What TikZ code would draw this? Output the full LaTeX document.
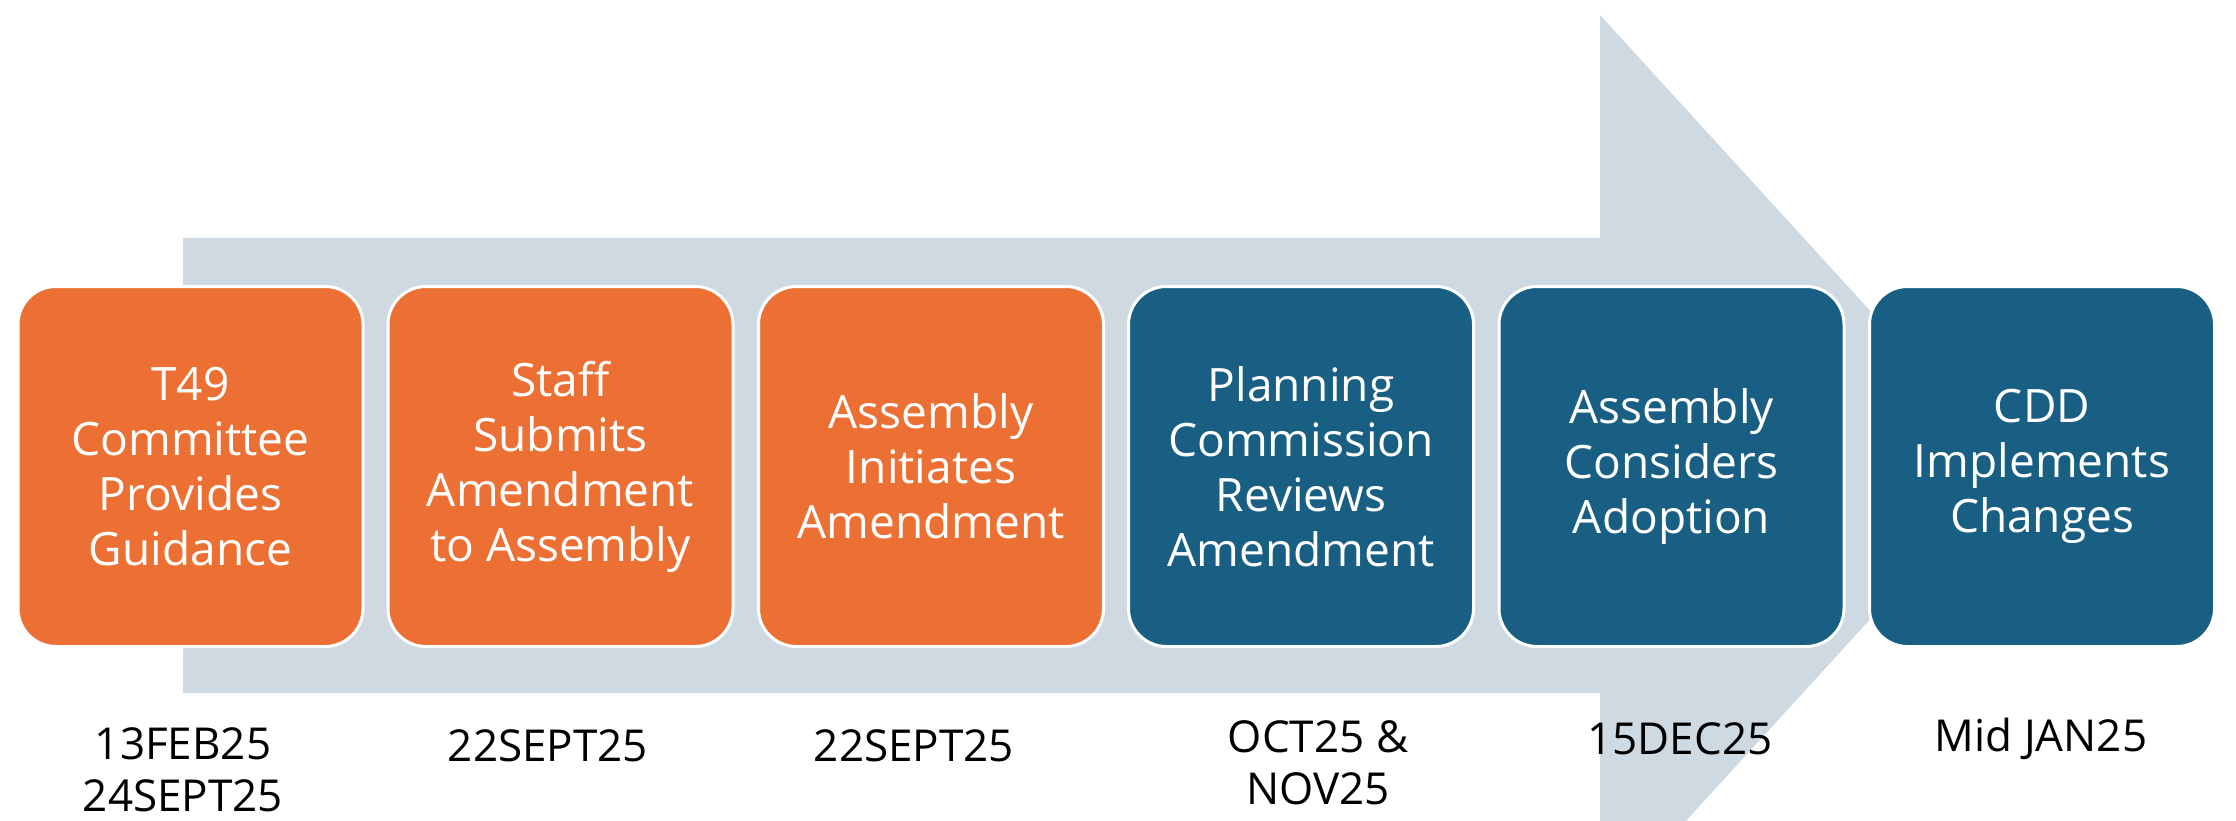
\documentclass[tikz,border=0pt]{standalone}
\usepackage{fontspec}
\setmainfont{Open Sans}
\definecolor{arrowGray}{RGB}{207,217,226}
\definecolor{stepOrange}{RGB}{236,112,52}
\definecolor{stepBlue}{RGB}{25,95,132}
\begin{document}
\begin{tikzpicture}[x=1pt,y=-1pt,
  stepbox/.style={rectangle, rounded corners=38pt, minimum width=345pt,
    minimum height=360pt, draw=white, line width=3pt, text=white,
    align=center, inner sep=0pt, font=\fontsize{46}{55}\selectfont},
  early/.style={stepbox, fill=stepOrange},
  late/.style={stepbox, fill=stepBlue},
  datelbl/.style={align=center, inner sep=0pt, anchor=north, text=black,
    font=\fontsize{44}{52}\selectfont}]
  \useasboundingbox (0,0) rectangle (2236,821);
  \fill[white] (0,0) rectangle (2236,821);

  % wide background arrow running under the steps
  \begin{scope}
    \clip (0,0) rectangle (2236,821);
    \fill[arrowGray] (183,238) -- (1600,238) -- (1600,15) -- (2011,465)
      -- (1600,915) -- (1600,693) -- (183,693) -- cycle;
  \end{scope}

  % process steps
  \node[early] (s1) at (190.5,466.5) {T49\\Committee\\Provides\\Guidance};
  \node[early] (s2) at (560.5,466.5) {Staff\\Submits\\Amendment\\to Assembly};
  \node[early] (s3) at (931,466.5) {Assembly\\Initiates\\Amendment};
  \node[late]  (s4) at (1301,466.5) {Planning\\Commission\\Reviews\\Amendment};
  \node[late]  (s5) at (1671.5,466.5) {Assembly\\Considers\\Adoption};
  \node[late]  (s6) at (2042,466.5) {CDD\\Implements\\Changes};

  % dates under each step
  \node[datelbl] (d1) at (183,727) {13FEB25\\24SEPT25};
  \node[datelbl] (d2) at (548,729) {22SEPT25};
  \node[datelbl] (d3) at (914,729) {22SEPT25};
  \node[datelbl] (d4) at (1318,720) {OCT25 \&\\NOV25};
  \node[datelbl] (d5) at (1680,722) {15DEC25};
  \node[datelbl] (d6) at (2041,718) {Mid JAN25};
\end{tikzpicture}
\end{document}
